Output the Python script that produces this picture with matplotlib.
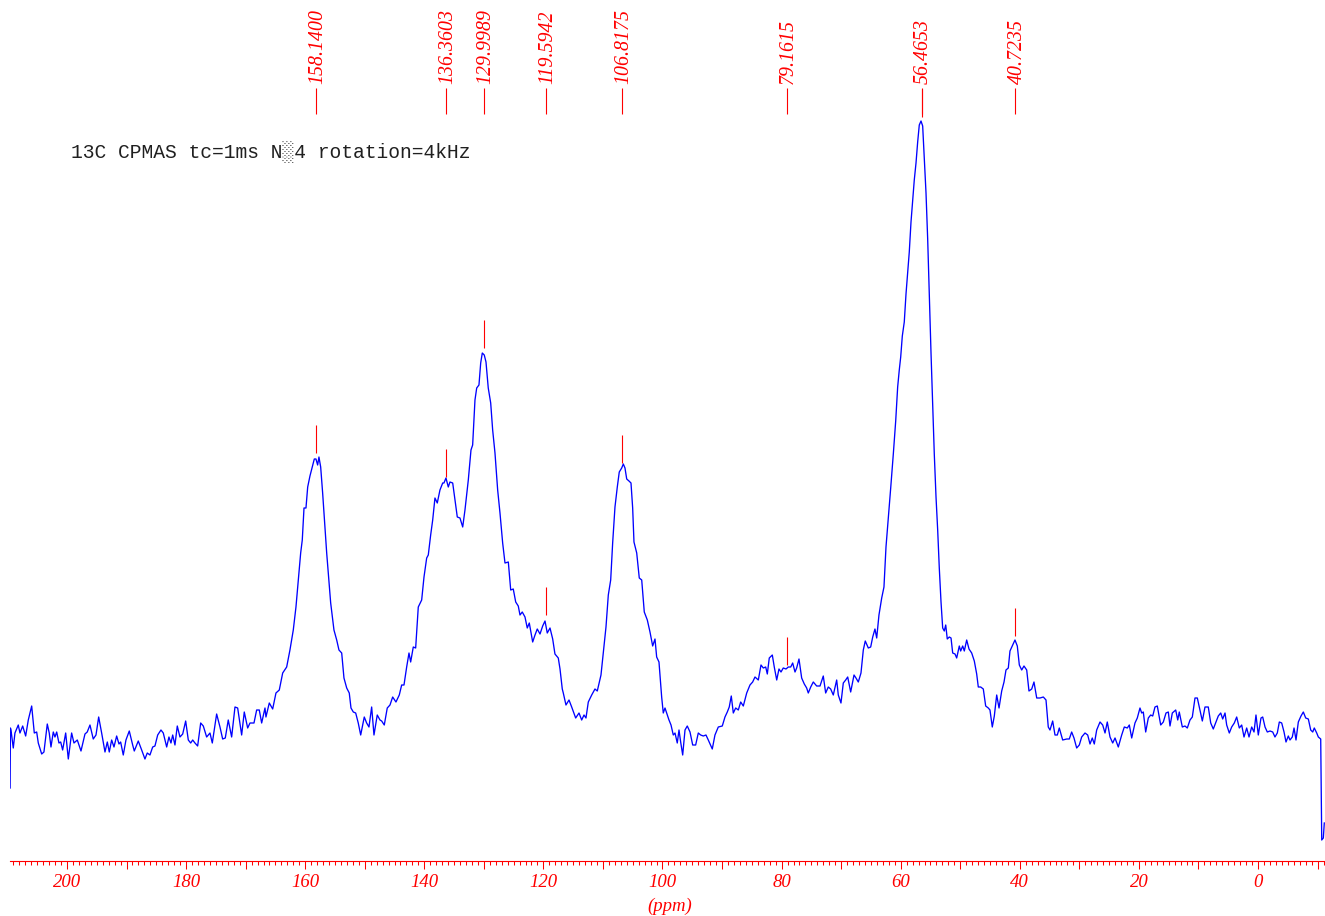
import numpy as np
import matplotlib
matplotlib.use('Agg')
import matplotlib.pyplot as plt
from matplotlib.ticker import MultipleLocator, FuncFormatter

# ---- spectrum (chemical shift in ppm, intensity in arbitrary units) ----
ppm = [
    209.55, 209.50, 209.41, 209.02, 208.74, 208.18, 207.90, 207.44, 206.94, 206.50,
    205.93, 205.49, 205.09, 204.82, 204.25, 203.87, 203.31, 202.98, 202.69, 202.30,
    202.02, 201.73, 201.35, 201.06, 200.73, 200.22, 199.78, 199.22, 198.83, 198.27,
    197.65, 196.98, 196.60, 196.14, 195.59, 195.13, 194.68, 194.18, 193.62, 193.23,
    192.90, 192.50, 192.11, 191.66, 191.27, 190.99, 190.55, 190.10, 189.54, 188.97,
    188.70, 188.03, 187.46, 186.91, 186.52, 186.07, 185.61, 185.23, 184.77, 184.22,
    183.83, 183.26, 182.88, 182.54, 182.25, 181.87, 181.48, 181.03, 180.57, 180.07,
    179.63, 179.23, 178.89, 178.51, 178.06, 177.55, 177.11, 176.55, 175.99, 175.60,
    174.87, 174.31, 173.86, 173.42, 172.92, 172.35, 171.79, 171.34, 170.67, 170.23,
    169.66, 169.27, 168.60, 168.15, 167.71, 167.31, 166.75, 166.59, 166.03, 165.46,
    164.91, 164.35, 163.78, 163.11, 162.56, 162.00, 161.55, 161.16, 160.76, 160.49,
    160.20, 159.87, 159.58, 159.20, 158.81, 158.47, 158.19, 157.91, 157.69, 157.40,
    157.07, 156.68, 156.39, 156.12, 155.72, 155.17, 154.71, 154.33, 153.87, 153.49,
    153.03, 152.60, 152.31, 151.92, 151.52, 151.09, 150.68, 150.08, 149.68, 149.29,
    148.84, 148.45, 147.90, 147.44, 147.16, 146.72, 146.22, 145.76, 145.31, 144.76,
    144.20, 143.80, 143.41, 142.96, 142.57, 142.29, 141.85, 141.45, 141.01, 140.44,
    140.05, 139.60, 139.33, 138.93, 138.59, 138.21, 137.82, 137.37, 136.91, 136.70,
    136.36, 135.97, 135.69, 135.23, 134.85, 134.46, 134.01, 133.55, 133.17, 132.61,
    132.16, 131.88, 131.49, 131.20, 130.82, 130.53, 130.26, 129.93, 129.64, 129.26,
    128.85, 128.52, 128.13, 127.68, 127.29, 126.84, 126.45, 125.89, 125.49, 125.06,
    124.65, 124.22, 123.93, 123.55, 123.09, 122.71, 122.37, 121.80, 121.41, 121.03,
    120.57, 120.12, 119.73, 119.35, 118.89, 118.44, 118.06, 117.50, 117.21, 116.83,
    116.66, 116.21, 115.70, 115.25, 114.58, 114.02, 113.57, 113.18, 112.85, 112.46,
    111.89, 111.34, 110.95, 110.33, 109.94, 109.49, 109.10, 108.70, 108.37, 107.98,
    107.59, 107.26, 106.85, 106.58, 106.30, 106.01, 105.63, 105.29, 105.01, 104.79,
    104.33, 103.90, 103.49, 103.06, 102.55, 102.10, 101.65, 101.26, 100.98, 100.59,
    100.14, 99.87, 99.58, 99.30, 98.91, 98.57, 98.19, 97.90, 97.52, 97.23,
    96.95, 96.61, 96.22, 95.84, 95.38, 94.93, 94.43, 93.99, 93.59, 93.15,
    92.70, 92.31, 91.64, 91.19, 90.63, 89.96, 89.51, 89.12, 88.79, 88.45,
    88.11, 87.71, 87.27, 86.87, 86.43, 85.86, 85.31, 84.86, 84.47, 83.91,
    83.46, 83.07, 82.67, 82.40, 82.07, 81.56, 81.23, 80.82, 80.44, 80.10,
    79.72, 79.26, 78.88, 78.47, 78.14, 77.75, 77.47, 77.08, 76.63, 76.19,
    75.79, 75.52, 75.11, 74.68, 74.11, 73.55, 73.00, 72.60, 72.16, 71.76,
    71.32, 70.75, 70.48, 70.03, 69.64, 69.24, 68.90, 68.40, 67.84, 67.51,
    67.12, 66.67, 66.28, 65.95, 65.44, 65.04, 64.70, 64.32, 64.03, 63.65,
    63.19, 62.81, 62.47, 62.08, 61.68, 61.24, 60.84, 60.51, 60.24, 60.00,
    59.73, 59.40, 59.11, 58.83, 58.56, 58.27, 57.99, 57.72, 57.43, 57.15,
    56.88, 56.59, 56.31, 56.04, 55.75, 55.47, 55.20, 54.91, 54.63, 54.36,
    54.07, 53.79, 53.52, 53.23, 52.95, 52.68, 52.44, 52.18, 51.84, 51.55,
    51.27, 50.88, 50.60, 50.16, 49.93, 49.59, 49.32, 48.92, 48.53, 48.08,
    47.64, 47.24, 46.97, 46.57, 46.13, 45.73, 45.29, 45.01, 44.62, 44.28,
    43.88, 43.49, 43.04, 42.65, 42.32, 41.93, 41.65, 41.26, 40.81, 40.42,
    40.08, 39.68, 39.30, 38.84, 38.46, 38.00, 37.62, 37.16, 36.61, 36.05,
    35.60, 35.22, 34.93, 34.48, 34.09, 33.70, 33.37, 32.80, 32.12, 31.69,
    31.29, 30.90, 30.45, 30.01, 29.61, 29.05, 28.60, 28.21, 27.83, 27.49,
    27.09, 26.53, 26.08, 25.69, 25.31, 24.85, 24.40, 24.01, 23.46, 22.89,
    22.45, 21.95, 21.61, 21.21, 20.66, 20.27, 19.82, 19.53, 19.26, 18.86,
    18.42, 18.02, 17.68, 17.30, 16.91, 16.34, 15.90, 15.45, 15.06, 14.78,
    14.39, 13.82, 13.48, 13.22, 12.71, 12.26, 11.87, 11.42, 11.03, 10.58,
    10.19, 9.86, 9.35, 8.90, 8.35, 7.94, 7.51, 7.05, 6.67, 6.26,
    5.93, 5.54, 5.26, 4.82, 4.42, 3.98, 3.58, 3.14, 2.74, 2.35,
    1.90, 1.51, 1.06, 0.67, 0.34, -0.05, -0.50, -0.79, -1.18, -1.56,
    -2.02, -2.47, -2.85, -3.24, -3.58, -3.98, -4.37, -4.70, -5.09, -5.37,
    -5.76, -6.05, -6.38, -6.77, -7.22, -7.61, -8.01, -8.45, -8.85, -9.19,
    -9.45, -9.86, -10.13, -10.53, -10.70, -10.97, -11.13,
]

intensity = [
    73, 133, 131, 113, 128, 136, 128, 135, 125, 141,
    155, 128, 129, 118, 107, 109, 137, 128, 114, 129,
    124, 129, 118, 119, 111, 128, 102, 128, 118, 121,
    110, 127, 129, 136, 122, 126, 144, 128, 109, 119,
    109, 121, 114, 125, 117, 119, 106, 121, 130, 116,
    110, 120, 111, 102, 108, 106, 114, 115, 126, 131,
    128, 114, 124, 118, 126, 116, 135, 124, 127, 140,
    121, 118, 121, 118, 115, 138, 135, 124, 128, 118,
    147, 134, 122, 123, 141, 124, 154, 153, 126, 149,
    133, 138, 138, 151, 151, 138, 153, 144, 158, 152,
    168, 171, 188, 194, 211, 231, 254, 281, 308, 321,
    353, 353, 374, 385, 394, 402, 402, 396, 404, 394,
    368, 334, 308, 288, 258, 231, 221, 211, 208, 183,
    173, 168, 153, 149, 148, 138, 126, 144, 138, 134,
    154, 126, 146, 141, 140, 136, 153, 156, 164, 159,
    166, 176, 176, 194, 208, 199, 214, 213, 254, 261,
    284, 303, 306, 326, 341, 363, 358, 371, 378, 378,
    383, 374, 379, 378, 361, 344, 343, 334, 351, 381,
    411, 416, 461, 473, 476, 498, 508, 506, 499, 473,
    458, 431, 408, 371, 348, 318, 298, 299, 271, 272,
    259, 255, 246, 249, 244, 233, 238, 219, 226, 232,
    227, 235, 240, 228, 233, 222, 207, 203, 192, 172,
    168, 156, 161, 154, 143, 148, 141, 146, 143, 159,
    166, 172, 170, 186, 208, 234, 266, 281, 318, 354,
    374, 389, 393, 397, 393, 382, 380, 378, 353, 319,
    308, 283, 281, 249, 241, 229, 215, 222, 204, 199,
    164, 148, 153, 148, 141, 136, 126, 128, 118, 131,
    119, 106, 131, 135, 129, 116, 116, 128, 126, 125,
    126, 121, 112, 126, 134, 135, 144, 149, 154, 165,
    148, 153, 151, 159, 155, 168, 176, 179, 184, 181,
    196, 193, 194, 187, 203, 206, 194, 181, 192, 189,
    193, 192, 194, 194, 198, 189, 193, 202, 183, 177,
    173, 168, 174, 179, 175, 175, 185, 168, 174, 172,
    166, 181, 166, 158, 178, 181, 184, 169, 186, 183,
    179, 188, 211, 220, 213, 214, 224, 232, 223, 246,
    263, 274, 314, 343, 373, 407, 440, 474, 491, 504,
    525, 539, 567, 588, 609, 639, 660, 681, 698, 719,
    736, 740, 735, 702, 668, 622, 567, 508, 457, 407,
    364, 331, 293, 259, 233, 230, 236, 222, 224, 223,
    208, 207, 203, 215, 210, 215, 210, 221, 212, 208,
    200, 187, 174, 174, 172, 155, 153, 151, 134, 145,
    166, 153, 170, 179, 191, 193, 210, 215, 221, 215,
    196, 191, 195, 191, 170, 172, 179, 163, 163, 164,
    161, 134, 131, 140, 126, 126, 133, 121, 122, 122,
    129, 123, 113, 116, 124, 128, 126, 117, 123, 117,
    131, 139, 136, 128, 139, 124, 118, 123, 114, 126,
    134, 133, 136, 123, 138, 143, 153, 148, 149, 129,
    143, 146, 145, 154, 155, 136, 139, 148, 149, 135,
    148, 151, 141, 149, 134, 135, 133, 141, 144, 163,
    163, 154, 140, 154, 154, 138, 132, 139, 145, 148,
    142, 148, 136, 128, 134, 138, 144, 133, 136, 124,
    133, 124, 134, 129, 146, 126, 143, 144, 134, 129,
    130, 129, 124, 128, 139, 138, 129, 119, 125, 121,
    124, 133, 121, 139, 145, 149, 143, 142, 131, 129,
    133, 128, 124, 122, 21, 23, 38,
]

# ---- picked peaks ----
peak_ppm = [158.1400, 136.3603, 129.9989, 119.5942, 106.8175, 79.1615, 56.4653, 40.7235]
peak_labels = ['158.1400', '136.3603', '129.9989', '119.5942',
               '106.8175', '79.1615', '56.4653', '40.7235']
peak_marker_base = [408, 384, 513, 246, 398, 196, 744, 225]

tick_labels_values = [200, 180, 160, 140, 120, 100, 80, 60, 40, 20, 0]

annotation = '13C CPMAS tc=1ms N\u25914 rotation=4kHz'

RED = '#ff0000'
BLUE = '#0000ff'
SERIF = ['Liberation Serif', 'DejaVu Serif']

W, H = 1325, 916
fig = plt.figure(figsize=(W / 100, H / 100), dpi=100)
ax = fig.add_axes([10 / W, 0, 1315 / W, 1])
ax.set_xlim(209.57, -11.25)
ax.set_ylim(-55, 861)

ax.plot(ppm, intensity, color=BLUE, lw=0.95, solid_joinstyle='round')

# peak markers above each peak
ax.vlines(peak_ppm, peak_marker_base, [b + 28 for b in peak_marker_base],
          color=RED, lw=0.8)
# label lines at the top
ax.vlines(peak_ppm, 747, 773, color=RED, lw=0.8)
for p, lab in zip(peak_ppm, peak_labels):
    ax.text(p - 0.25, 777, lab, rotation=90, rotation_mode='anchor',
            ha='left', va='center', color=RED, fontsize=14.3,
            family=SERIF, style='italic')

# axis
for s in ['top', 'left', 'right']:
    ax.spines[s].set_visible(False)
ax.spines['bottom'].set_position(('data', 0))
ax.spines['bottom'].set_color(RED)
ax.spines['bottom'].set_linewidth(0.8)
ax.set_yticks([])
ax.patch.set_alpha(0)

ax.xaxis.set_major_locator(MultipleLocator(10))
ax.xaxis.set_minor_locator(MultipleLocator(1))
ax.xaxis.set_major_formatter(FuncFormatter(
    lambda v, pos: f'{int(round(v))}' if int(round(v)) in tick_labels_values else ''))
ax.tick_params(axis='x', which='major', direction='out', length=5.8, width=0.75,
               color=RED, labelcolor=RED, labelsize=13.5, pad=3.5)
ax.tick_params(axis='x', which='minor', direction='out', length=2.9, width=0.75,
               color=RED)
for lab in ax.get_xticklabels():
    lab.set_fontfamily(SERIF)
    lab.set_fontstyle('italic')

fig.text(670 / W, 1 - 906 / H, '(ppm)', ha='center', va='center', color=RED,
         fontsize=13.5, family=SERIF, style='italic')

fig.text(71 / W, 1 - 158 / H, annotation, ha='left', va='baseline', color='#202020',
         fontsize=14.1, family=['Liberation Mono', 'DejaVu Sans Mono'])

fig.savefig('out.png', dpi=100)
